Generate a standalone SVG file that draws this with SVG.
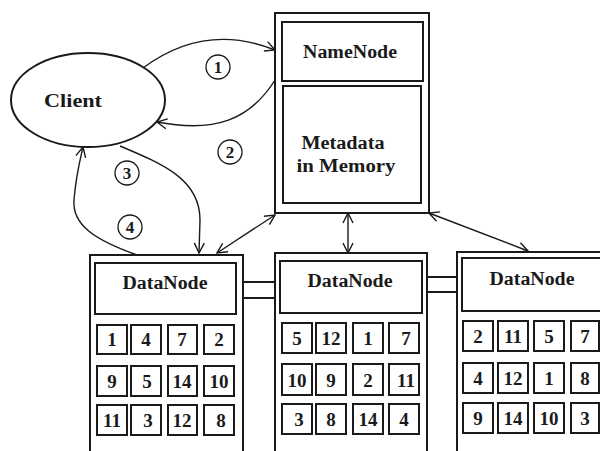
<svg xmlns="http://www.w3.org/2000/svg" width="600" height="451" viewBox="0 0 600 451">
<defs>
<style>
.box{fill:none;stroke:#1a1a1a;stroke-width:2}
.cell{fill:none;stroke:#1a1a1a;stroke-width:2}
.t{font-family:"Liberation Serif","Times New Roman",serif;font-weight:bold;fill:#1a1a1a;text-anchor:middle}
.title{font-size:18px}
.num{font-size:19px}
.lnum{font-size:17px}
.conn{fill:none;stroke:#1a1a1a;stroke-width:1.4}
.dbl{fill:none;stroke:#1a1a1a;stroke-width:2}
.lab{fill:none;stroke:#1a1a1a;stroke-width:1.3}
</style>
<marker id="ah" viewBox="0 0 12 12" refX="11" refY="6" markerWidth="12" markerHeight="12" markerUnits="userSpaceOnUse" orient="auto-start-reverse">
<path d="M1,1 L11,6 L1,11" fill="none" stroke="#1a1a1a" stroke-width="1.4"/>
</marker>
</defs>
<rect width="600" height="451" fill="#fff"/>

<g id="client">
<ellipse cx="88" cy="100" rx="77" ry="47" class="box"/>
<text x="73" y="107" class="t title" textLength="58" lengthAdjust="spacingAndGlyphs">Client</text>
</g>

<g id="namenode">
<rect x="275" y="13" width="154" height="200" class="box"/>
<rect x="282" y="22" width="141" height="59" class="box"/>
<text x="350" y="58" class="t title" textLength="94" lengthAdjust="spacingAndGlyphs">NameNode</text>
<rect x="283" y="86" width="138" height="117" class="box"/>
<text x="343" y="149" class="t title" textLength="83" lengthAdjust="spacingAndGlyphs">Metadata</text>
<text x="346" y="172" class="t title" textLength="99" lengthAdjust="spacingAndGlyphs">in Memory</text>
</g>

<g id="datanode1">
<rect x="90" y="255" width="153" height="210" class="box"/>
<rect x="95" y="263" width="141" height="51" class="box"/>
<text x="165" y="289" class="t title" textLength="85" lengthAdjust="spacingAndGlyphs">DataNode</text>
<rect x="97" y="325" width="30" height="29" class="cell"/><text x="112" y="346" class="t num">1</text>
<rect x="131" y="325" width="30" height="29" class="cell"/><text x="146" y="346" class="t num">4</text>
<rect x="168" y="325" width="29" height="29" class="cell"/><text x="182" y="346" class="t num">7</text>
<rect x="204" y="325" width="30" height="29" class="cell"/><text x="219" y="346" class="t num">2</text>
<rect x="97" y="366" width="30" height="30" class="cell"/><text x="112" y="388" class="t num">9</text>
<rect x="131" y="366" width="30" height="30" class="cell"/><text x="147" y="388" class="t num">5</text>
<rect x="168" y="366" width="29" height="30" class="cell"/><text x="182" y="388" class="t num">14</text>
<rect x="204" y="366" width="30" height="30" class="cell"/><text x="219" y="388" class="t num">10</text>
<rect x="97" y="405" width="30" height="30" class="cell"/><text x="112" y="427" class="t num">11</text>
<rect x="131" y="405" width="30" height="30" class="cell"/><text x="148" y="427" class="t num">3</text>
<rect x="168" y="405" width="29" height="30" class="cell"/><text x="182" y="427" class="t num">12</text>
<rect x="204" y="405" width="30" height="30" class="cell"/><text x="221" y="427" class="t num">8</text>
</g>

<g id="datanode2">
<rect x="275" y="253" width="152" height="212" class="box"/>
<rect x="280" y="261" width="142" height="52" class="box"/>
<text x="350" y="287" class="t title" textLength="85" lengthAdjust="spacingAndGlyphs">DataNode</text>
<rect x="282" y="323" width="30" height="30" class="cell"/><text x="297" y="345" class="t num">5</text>
<rect x="316" y="323" width="30" height="30" class="cell"/><text x="331" y="345" class="t num">12</text>
<rect x="353" y="323" width="30" height="30" class="cell"/><text x="368" y="345" class="t num">1</text>
<rect x="389" y="323" width="30" height="30" class="cell"/><text x="406" y="345" class="t num">7</text>
<rect x="282" y="364" width="30" height="31" class="cell"/><text x="297" y="387" class="t num">10</text>
<rect x="316" y="364" width="30" height="31" class="cell"/><text x="331" y="387" class="t num">9</text>
<rect x="353" y="364" width="30" height="31" class="cell"/><text x="368" y="387" class="t num">2</text>
<rect x="389" y="364" width="30" height="31" class="cell"/><text x="406" y="387" class="t num">11</text>
<rect x="282" y="404" width="30" height="30" class="cell"/><text x="299" y="426" class="t num">3</text>
<rect x="316" y="404" width="30" height="30" class="cell"/><text x="331" y="426" class="t num">8</text>
<rect x="353" y="404" width="30" height="30" class="cell"/><text x="368" y="426" class="t num">14</text>
<rect x="389" y="404" width="30" height="30" class="cell"/><text x="404" y="426" class="t num">4</text>
</g>

<g id="datanode3">
<rect x="457" y="252" width="160" height="213" class="box"/>
<rect x="462" y="258" width="150" height="53" class="box"/>
<text x="532" y="285" class="t title" textLength="85" lengthAdjust="spacingAndGlyphs">DataNode</text>
<rect x="463" y="321" width="30" height="30" class="cell"/><text x="478" y="343" class="t num">2</text>
<rect x="498" y="321" width="30" height="30" class="cell"/><text x="513" y="343" class="t num">11</text>
<rect x="534" y="321" width="30" height="30" class="cell"/><text x="549" y="343" class="t num">5</text>
<rect x="571" y="321" width="28" height="30" class="cell"/><text x="585" y="343" class="t num">7</text>
<rect x="463" y="363" width="30" height="30" class="cell"/><text x="478" y="385" class="t num">4</text>
<rect x="498" y="363" width="30" height="30" class="cell"/><text x="513" y="385" class="t num">12</text>
<rect x="534" y="363" width="30" height="30" class="cell"/><text x="549" y="385" class="t num">1</text>
<rect x="571" y="363" width="28" height="30" class="cell"/><text x="585" y="385" class="t num">8</text>
<rect x="463" y="403" width="30" height="30" class="cell"/><text x="478" y="425" class="t num">9</text>
<rect x="498" y="403" width="30" height="30" class="cell"/><text x="513" y="425" class="t num">14</text>
<rect x="534" y="403" width="30" height="30" class="cell"/><text x="549" y="425" class="t num">10</text>
<rect x="571" y="403" width="28" height="30" class="cell"/><text x="585" y="425" class="t num">3</text>
</g>

<g id="connectors">
<path class="conn" d="M143,68 Q205,22 275,50" marker-end="url(#ah)"/>
<path class="conn" d="M275,80 C250,120 215,133 157,122" marker-end="url(#ah)"/>
<path class="conn" d="M120,146 C165,165 200,180 200,220 L199,253" marker-end="url(#ah)"/>
<path class="conn" d="M137,255 C95,240 72,225 74,200 S80,160 83,147" marker-end="url(#ah)"/>
<path class="conn" d="M275,215 L217,253" marker-start="url(#ah)" marker-end="url(#ah)"/>
<path class="conn" d="M348,213 L348,253" marker-start="url(#ah)" marker-end="url(#ah)"/>
<path class="conn" d="M429,213 L528,251" marker-start="url(#ah)" marker-end="url(#ah)"/>
<path class="dbl" d="M243,282 H275 M243,298 H275"/>
<path class="dbl" d="M427,277 H457 M427,292 H457"/>
</g>

<g id="labels">
<circle cx="218" cy="67" r="12" class="lab"/><text x="218" y="73" class="t lnum">1</text>
<circle cx="230" cy="152" r="12" class="lab"/><text x="230" y="158" class="t lnum">2</text>
<circle cx="127" cy="173" r="12" class="lab"/><text x="127" y="179" class="t lnum">3</text>
<circle cx="130" cy="227" r="12" class="lab"/><text x="130" y="233" class="t lnum">4</text>
</g>
</svg>
